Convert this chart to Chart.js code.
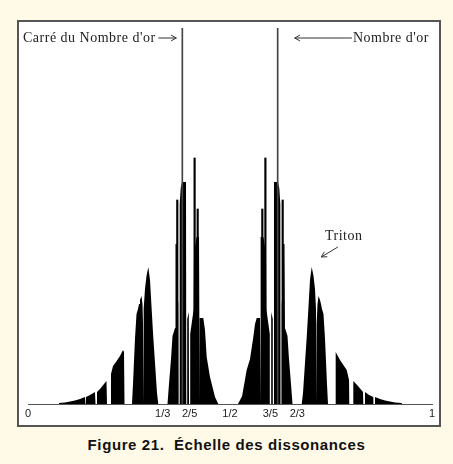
<!DOCTYPE html>
<html>
<head>
<meta charset="utf-8">
<script src="https://cdn.jsdelivr.net/npm/chart.js@4.4.0/dist/chart.umd.min.js"></script>
<style>
  html, body { margin: 0; padding: 0; }
  body { width: 453px; height: 464px; background: #fffae8; position: relative; overflow: hidden; }
  #frame { position: absolute; left: 17px; top: 20px; width: 420px; height: 403px; border: 2px solid #555; background: #fff; }
  #caption { position: absolute; left: 0; width: 453px; top: 436px; text-align: center; font-family: "Liberation Sans", Arial, sans-serif; font-weight: bold; font-size: 15px; letter-spacing: 0.6px; color: #111; }
</style>
</head>
<body>
<div id="frame"><canvas id="dissonance" width="420" height="403"></canvas></div>
<div id="caption">Figure 21.&nbsp; Échelle des dissonances</div>
<script>
const tickValues = [0, 1/3, 2/5, 1/2, 3/5, 2/3, 1];
const tickLabels = ['0', '1/3', '2/5', '1/2', '3/5', '2/3', '1'];

// black envelope, [position, height]
const profileLeft = [
    [0.0743, 0], [0.0767, 1], [0.0916, 1.5], [0.1040, 2.5], [0.1163, 3.5], [0.1287, 5], [0.1411, 7], [0.1423, 0],
    [0.1436, 0], [0.1436, 7], [0.1535, 9], [0.1658, 12], [0.1671, 0],
    [0.1708, 0], [0.1708, 12], [0.1782, 15], [0.1881, 20], [0.1943, 23], [0.1955, 0],
    [0.2042, 0], [0.2054, 30], [0.2104, 38], [0.2178, 42], [0.2277, 48], [0.2351, 54], [0.2376, 52], [0.2389, 0],
    [0.2574, 0], [0.2599, 20], [0.2649, 66], [0.2686, 90], [0.2723, 95], [0.2748, 100], [0.2772, 104], [0.2809, 108],
    [0.2834, 100], [0.2847, 80], [0.2854, 0], [0.2864, 0], [0.2871, 95], [0.2896, 115], [0.2933, 128], [0.2978, 137],
    [0.3020, 124], [0.3062, 94], [0.3101, 67], [0.3144, 41], [0.3193, 11], [0.3225, 0],
    [0.3453, 0], [0.3490, 20], [0.3540, 45], [0.3577, 68], [0.3639, 76], [0.3651, 160], [0.3688, 160], [0.3700, 110],
    [0.3720, 100], [0.3725, 0], [0.3750, 0], [0.3755, 200], [0.3780, 216], [0.3812, 222], [0.3911, 222], [0.3918, 0],
    [0.3941, 0], [0.3941, 85], [0.3980, 92], [0.3985, 0], [0.4015, 0], [0.4015, 70], [0.4101, 95], [0.4109, 150],
    [0.4171, 167], [0.4233, 167], [0.4240, 0], [0.4252, 0], [0.4257, 86], [0.4339, 86], [0.4381, 74], [0.4423, 47],
    [0.4505, 27], [0.4629, 7], [0.4710, 0]
];
const profileRight = [
    [0.5198, 0], [0.5300, 8], [0.5413, 34], [0.5495, 45], [0.5577, 67], [0.5619, 80], [0.5661, 86], [0.5743, 86],
    [0.5748, 0], [0.5760, 0], [0.5767, 167], [0.5829, 167], [0.5891, 150], [0.5899, 95], [0.5985, 70], [0.5985, 0],
    [0.6015, 0], [0.6020, 92], [0.6059, 85], [0.6059, 0], [0.6082, 0], [0.6089, 222], [0.6188, 222], [0.6220, 216],
    [0.6245, 200], [0.6250, 0], [0.6275, 0], [0.6280, 100], [0.6300, 110], [0.6312, 160], [0.6349, 160], [0.6361, 76],
    [0.6423, 68], [0.6460, 45], [0.6510, 20], [0.6547, 0],
    [0.6775, 0], [0.6807, 11], [0.6856, 41], [0.6899, 67], [0.6938, 94], [0.6980, 124], [0.7022, 137], [0.7067, 128],
    [0.7104, 115], [0.7129, 95], [0.7136, 0], [0.7146, 0], [0.7153, 80], [0.7166, 100], [0.7191, 108], [0.7228, 104],
    [0.7252, 100], [0.7277, 95], [0.7314, 90], [0.7351, 66], [0.7401, 20], [0.7426, 0],
    [0.7611, 0], [0.7616, 52], [0.7723, 44], [0.7889, 34], [0.7946, 24], [0.7953, 0],
    [0.8045, 0], [0.8052, 23], [0.8168, 18], [0.8292, 12], [0.8300, 0],
    [0.8342, 0], [0.8342, 12], [0.8441, 9], [0.8547, 7], [0.8550, 0],
    [0.8589, 0], [0.8589, 7], [0.8713, 5], [0.8837, 3.5], [0.8960, 2.5], [0.9084, 1.5], [0.9250, 1], [0.9257, 0]
];

// thin spikes sticking out of the envelope
const spikeX = [0.3695, 0.4124, 0.4200, 0.5800, 0.5876, 0.6304];
const spikeY = [204, 246, 195, 195, 246, 204];

// golden ratio lines
const goldenX = [0.382, 0.618];
const goldenY = [376, 376];

const yMax = 376;

function arrow(ctx, x1, y1, x2, y2) {
    const a = Math.atan2(y2 - y1, x2 - x1);
    const h = 6;
    ctx.beginPath();
    ctx.moveTo(x1, y1);
    ctx.lineTo(x2, y2);
    ctx.moveTo(x2 - h * Math.cos(a - 0.5), y2 - h * Math.sin(a - 0.5));
    ctx.lineTo(x2, y2);
    ctx.lineTo(x2 - h * Math.cos(a + 0.5), y2 - h * Math.sin(a + 0.5));
    ctx.stroke();
}

const labelsPlugin = {
    id: 'labels',
    afterDraw(chart) {
        const ctx = chart.ctx;
        const x = chart.scales.x;
        const y = chart.scales.y;
        const g1 = x.getPixelForValue(goldenX[0]);
        const g2 = x.getPixelForValue(goldenX[1]);
        const top = chart.chartArea.top + 10;
        ctx.save();
        ctx.fillStyle = '#222';
        ctx.strokeStyle = '#333';
        ctx.lineWidth = 1;
        ctx.font = '14px "Liberation Serif", "Times New Roman", serif';
        ctx.letterSpacing = '0.5px';
        ctx.textBaseline = 'middle';
        ctx.textAlign = 'left';
        ctx.fillText("Carré du Nombre d'or", 4, top);
        arrow(ctx, g1 - 24, top, g1 - 6, top);
        ctx.textAlign = 'right';
        ctx.fillText("Nombre d'or", chart.chartArea.right - 3, top);
        const textLeft = chart.chartArea.right - 3 - ctx.measureText("Nombre d'or").width;
        arrow(ctx, textLeft - 1, top, g2 + 17, top);
        ctx.textAlign = 'left';
        ctx.fillText('Triton', x.getPixelForValue(0.7351), y.getPixelForValue(168));
        arrow(ctx, x.getPixelForValue(0.767), y.getPixelForValue(157), x.getPixelForValue(0.726), y.getPixelForValue(147));
        ctx.restore();
    }
};

const ctx = document.getElementById('dissonance');
new Chart(ctx, {
    type: 'line',
    data: {
        datasets: [
            {
                type: 'bar',
                data: goldenX.map((v, i) => ({ x: v, y: goldenY[i] })),
                backgroundColor: '#444',
                barThickness: 1,
                grouped: false,
                order: 1
            },
            {
                type: 'bar',
                data: spikeX.map((v, i) => ({ x: v, y: spikeY[i] })),
                backgroundColor: '#000',
                barThickness: 1.5,
                grouped: false,
                order: 2
            },
            {
                data: profileLeft.concat(profileRight).map(p => ({ x: p[0], y: p[1] })),
                borderWidth: 0,
                borderColor: '#000',
                backgroundColor: '#000',
                fill: 'origin',
                pointRadius: 0,
                tension: 0,
                order: 3
            }
        ]
    },
    options: {
        responsive: false,
        animation: false,
        layout: { padding: { left: 9, right: 7, top: 6, bottom: 0 } },
        plugins: { legend: { display: false }, tooltip: { enabled: false } },
        scales: {
            x: {
                type: 'linear',
                min: 0,
                max: 1,
                offset: false,
                grid: { display: false, drawTicks: false },
                border: { display: true, color: '#555', width: 1 },
                afterBuildTicks: (s) => { s.ticks = tickValues.map(v => ({ value: v })); },
                afterFit: (s) => { s.height = 21; },
                ticks: {
                    autoSkip: false,
                    maxRotation: 0,
                    padding: 3,
                    color: '#222',
                    font: { family: '"Liberation Sans", Arial, sans-serif', size: 11 },
                    callback: (v, i) => tickLabels[i]
                }
            },
            y: {
                display: false,
                min: 0,
                max: yMax
            }
        }
    },
    plugins: [labelsPlugin]
});
</script>
</body>
</html>
